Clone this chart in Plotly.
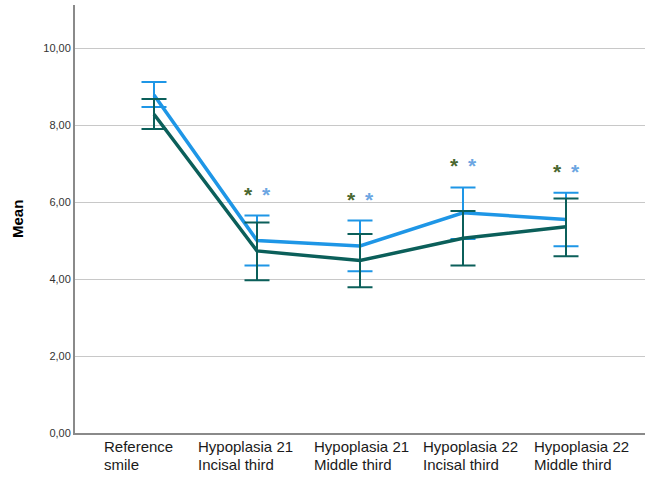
import plotly.graph_objects as go

# Categories (two-line labels) and group statistics
categories = ["Reference smile", "Hypoplasia 21 Incisal third", "Hypoplasia 21 Middle third",
              "Hypoplasia 22 Incisal third", "Hypoplasia 22 Middle third"]
label_line1 = ["Reference", "Hypoplasia 21", "Hypoplasia 21", "Hypoplasia 22", "Hypoplasia 22"]
label_line2 = ["smile", "Incisal third", "Middle third", "Incisal third", "Middle third"]

blue_mean = [8.78, 5.00, 4.86, 5.72, 5.55]
blue_lo = [8.47, 4.35, 4.20, 5.04, 4.85]
blue_hi = [9.12, 5.65, 5.52, 6.38, 6.24]

teal_mean = [8.28, 4.73, 4.48, 5.06, 5.36]
teal_lo = [7.90, 3.97, 3.79, 4.35, 4.59]
teal_hi = [8.68, 5.47, 5.17, 5.77, 6.09]

# significance markers shown above the groups 1..4
signif = [False, True, True, True, True]

y_ticks = [0, 2, 4, 6, 8, 10]

BLUE = "#1E96E6"
TEAL = "#0B5F5A"
STAR_GREEN = "#4A6830"
STAR_BLUE = "#6CA6E2"
FONT = "Liberation Sans, Arial, sans-serif"

x = list(range(len(categories)))

fig = go.Figure()


def add_series(mean, lo, hi, color):
    fig.add_trace(go.Scatter(
        x=x, y=mean, mode="lines",
        line=dict(color=color, width=3.5),
        error_y=dict(
            type="data", symmetric=False,
            array=[h - m for h, m in zip(hi, mean)],
            arrayminus=[m - l for m, l in zip(mean, lo)],
            color=color, thickness=2, width=12.5,
        ),
        hoverinfo="skip", showlegend=False,
    ))


add_series(blue_mean, blue_lo, blue_hi, BLUE)
add_series(teal_mean, teal_lo, teal_hi, TEAL)

annotations = []
# category labels, left-aligned under each group
label_shift = [-52, -61, -48, -42, -34]
for i in x:
    for j, txt in enumerate((label_line1[i], label_line2[i])):
        annotations.append(dict(
            x=i, y=0, xref="x", yref="paper", text=txt, showarrow=False,
            xanchor="left", yanchor="top", align="left",
            xshift=label_shift[i], yshift=-3 - 18 * j,
            font=dict(family=FONT, size=15, color="#1a1a1a"),
        ))

# asterisks above the upper interval bound
for i in x:
    if not signif[i]:
        continue
    for dx, col in ((-8.5, STAR_GREEN), (9, STAR_BLUE)):
        annotations.append(dict(
            x=i, y=blue_hi[i], xref="x", yref="y", text="<b>*</b>", showarrow=False,
            xanchor="center", yanchor="bottom", xshift=dx, yshift=8,
            font=dict(family=FONT, size=21, color=col),
        ))

# y-axis title
annotations.append(dict(
    x=0, y=0.5, xref="paper", yref="paper", text="<b>Mean</b>", showarrow=False,
    xanchor="center", yanchor="middle", xshift=-58, textangle=-90,
    font=dict(family=FONT, size=15, color="#000000"),
))

fig.update_layout(
    width=645, height=480,
    margin=dict(l=75, r=0, t=5, b=47),
    paper_bgcolor="white", plot_bgcolor="white",
    separators=",.",
    annotations=annotations,
    xaxis=dict(
        range=[-0.767, 4.767], showticklabels=False, ticks="",
        showgrid=False, zeroline=False,
        showline=True, linecolor="#8a8a8a", linewidth=2,
    ),
    yaxis=dict(
        range=[0, 11.12], tickvals=y_ticks, tickformat=".2f",
        showgrid=True, gridcolor="#c8c8c8", gridwidth=1,
        zeroline=False, showline=True, linecolor="#8a8a8a", linewidth=2,
        ticks="outside", ticklen=0, tickcolor="white",
        tickfont=dict(family=FONT, size=11, color="#333333"),
    ),
)

fig.write_html("out.html")
